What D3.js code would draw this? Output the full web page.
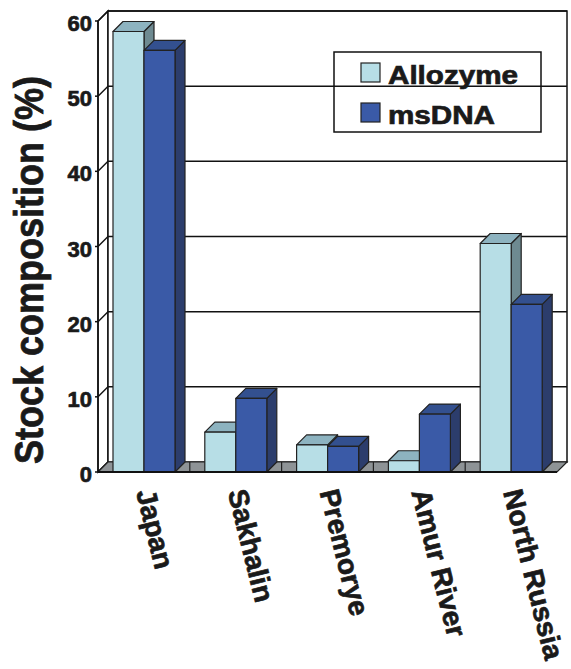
<!DOCTYPE html>
<html>
<head>
<meta charset="utf-8">
<script src="https://cdnjs.cloudflare.com/ajax/libs/d3/7.8.5/d3.min.js"></script>
<style>
  body { margin: 0; background: #fff; }
  svg { display: block; font-family: "Liberation Sans", Arial, sans-serif; font-weight: bold; }
  .lbl { fill: #1a1a1a; stroke: #1a1a1a; stroke-width: 0.7px; }
</style>
</head>
<body>
<div id="chart"></div>
<script>
const categories = ["Japan", "Sakhalin", "Premorye", "Amur River", "North Russia"];
const seriesNames = ["Allozyme", "msDNA"];
const allozyme = [58.6, 5.3, 3.6, 1.5, 30.4];
const msdna = [56.1, 9.8, 3.4, 7.7, 22.3];
const yTicks = [0, 10, 20, 30, 40, 50, 60];

const width = 571, height = 669;
const dx = 10, dy = -10;   // depth offset of the 3d box

const colors = {
  Allozyme: { front: "#b7dee6", top: "#8db3c0", side: "#6e8a91" },
  msDNA:    { front: "#3a5aa7", top: "#33508f", side: "#2c3d6c" }
};

const svg = d3.select("#chart").append("svg")
  .attr("width", width).attr("height", height);

const x0 = d3.scaleBand().domain(categories).range([98, 557]);
const x1 = d3.scaleBand().domain(seriesNames).range([15, 77]);
const y = d3.scaleLinear().domain([0, 60]).range([472, 21]);

const y0 = y(0), yTop = y(60);
const left = x0.range()[0], right = x0.range()[1];

// left side wall
svg.append("path")
  .attr("d", `M${left},${y0}L${left + dx},${y0 + dy}L${left + dx},${yTop + dy}L${left},${yTop}Z`)
  .attr("fill", "#fff").attr("stroke", "#111").attr("stroke-width", 1.5);

// back wall
svg.append("rect")
  .attr("x", left + dx).attr("y", yTop + dy)
  .attr("width", right - left).attr("height", y0 - yTop)
  .attr("fill", "#fff").attr("stroke", "#111").attr("stroke-width", 1.5);

// gridlines on back wall + diagonals on the side wall
const grid = svg.append("g").attr("stroke", "#111").attr("stroke-width", 1.5);
grid.selectAll(".gl").data(yTicks.filter(d => d > 0)).join("line")
  .attr("x1", left + dx).attr("x2", right + dx)
  .attr("y1", d => y(d) + dy).attr("y2", d => y(d) + dy);
grid.selectAll(".dg").data(yTicks).join("line")
  .attr("x1", left - 3).attr("x2", left)
  .attr("y1", d => y(d)).attr("y2", d => y(d));
grid.selectAll(".dg2").data(yTicks).join("line")
  .attr("x1", left).attr("x2", left + dx)
  .attr("y1", d => y(d)).attr("y2", d => y(d) + dy);

// floor
svg.append("path")
  .attr("d", `M${left},${y0}L${right},${y0}L${right + dx},${y0 + dy}L${left + dx},${y0 + dy}Z`)
  .attr("fill", "#8e9396").attr("stroke", "#222").attr("stroke-width", 1.2);
svg.append("g").selectAll("line").data(categories.slice(1)).join("line")
  .attr("x1", d => x0(d)).attr("x2", d => x0(d))
  .attr("y1", y0).attr("y2", y0 + dy)
  .attr("stroke", "#222").attr("stroke-width", 1.2);

// bars
const rows = [];
categories.forEach((c, i) => {
  rows.push({ cat: c, s: "Allozyme", v: allozyme[i] });
  rows.push({ cat: c, s: "msDNA", v: msdna[i] });
});

const bars = svg.append("g").selectAll("g").data(rows).join("g")
  .attr("stroke", "#222").attr("stroke-width", 1.2).attr("stroke-linejoin", "round");
bars.append("path")
  .attr("fill", d => colors[d.s].side)
  .attr("d", d => {
    const xr = x0(d.cat) + x1(d.s) + x1.bandwidth(), yt = y(d.v);
    return `M${xr},${yt}L${xr + dx},${yt + dy}L${xr + dx},${y0 + dy}L${xr},${y0}Z`;
  });
bars.append("path")
  .attr("fill", d => colors[d.s].top)
  .attr("d", d => {
    const xl = x0(d.cat) + x1(d.s), xr = xl + x1.bandwidth(), yt = y(d.v);
    return `M${xl},${yt}L${xl + dx},${yt + dy}L${xr + dx},${yt + dy}L${xr},${yt}Z`;
  });
bars.append("rect")
  .attr("fill", d => colors[d.s].front)
  .attr("x", d => x0(d.cat) + x1(d.s))
  .attr("y", d => y(d.v))
  .attr("width", x1.bandwidth())
  .attr("height", d => y0 - y(d.v));

// front edge of floor
svg.append("line")
  .attr("x1", left).attr("x2", right).attr("y1", y0).attr("y2", y0)
  .attr("stroke", "#111").attr("stroke-width", 2.2);
svg.append("line")
  .attr("x1", left).attr("x2", left).attr("y1", y0).attr("y2", yTop)
  .attr("stroke", "#111").attr("stroke-width", 1.5);

// y tick labels
svg.append("g").selectAll("text").data(yTicks).join("text")
  .attr("class", "lbl")
  .attr("x", 92).attr("y", d => y(d) + 10)
  .attr("text-anchor", "end")
  .attr("font-size", 22)
  .text(d => d);

// y title
svg.append("text")
  .attr("class", "lbl")
  .attr("transform", "translate(43,270) scale(1.14,1) rotate(-90)")
  .attr("text-anchor", "middle")
  .attr("font-size", 36)
  .text("Stock composition (%)");

// category labels
svg.append("g").selectAll("text").data(categories).join("text")
  .attr("class", "lbl")
  .attr("transform", d => `translate(${x0(d) + x0.bandwidth() / 2 - 8},492) rotate(76)`)
  .attr("font-size", 28)
  .text(d => d);

// legend
const legend = svg.append("g");
legend.append("rect")
  .attr("x", 334).attr("y", 52).attr("width", 207).attr("height", 80)
  .attr("fill", "none").attr("stroke", "#111").attr("stroke-width", 1.5);
const li = legend.selectAll("g").data(seriesNames).join("g")
  .attr("transform", (d, i) => `translate(361,${84 + i * 40})`);
li.append("rect")
  .attr("x", 0).attr("y", -21).attr("width", 19).attr("height", 19)
  .attr("fill", d => colors[d].front).attr("stroke", "#222").attr("stroke-width", 1.2);
li.append("text")
  .attr("class", "lbl")
  .attr("transform", "translate(27,0) scale(1.14,1)")
  .attr("font-size", 26)
  .text(d => d);
</script>
</body>
</html>
